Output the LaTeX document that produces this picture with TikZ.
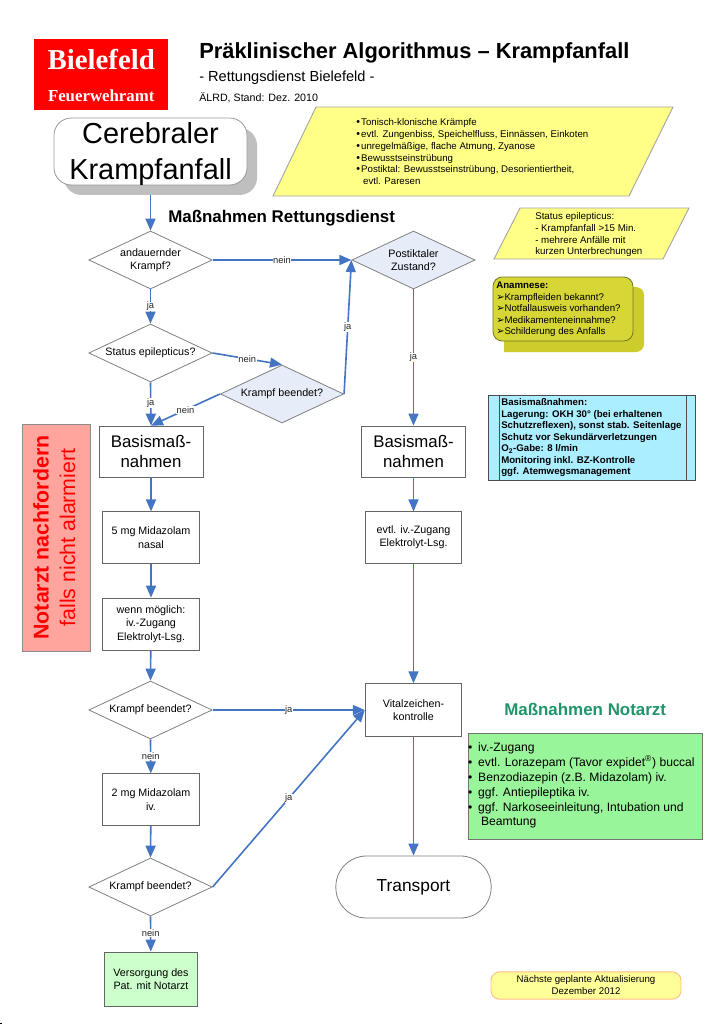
\documentclass[tikz,border=0pt]{standalone}
\usepackage{fontspec}
\setmainfont{Liberation Sans}
\newfontfamily\serifbold[BoldFont=* Bold]{Liberation Serif}
\newfontfamily\dejavu{DejaVu Sans}
\usetikzlibrary{arrows.meta,shapes.geometric,positioning,calc}
\newcommand{\fs}[2]{\fontsize{#1}{#2}\selectfont}
\newcommand{\bul}{\makebox[3.7pt][l]{\raisebox{.1pt}{\footnotesize\textbullet}}}
\newcommand{\arr}{\makebox[6.2pt][l]{\dejavu\fontsize{7.5}{7.5}\selectfont ➢}}
\newcommand{\gbul}{\makebox[7.6pt][l]{\textbullet}}
\definecolor{bluel}{HTML}{4375C3}
\definecolor{grayb}{HTML}{808080}
\begin{document}
\begin{tikzpicture}[x=0.75pt,y=-0.75pt,
  box/.style={draw=grayb!80!black,line width=.6pt,fill=white,align=center,inner sep=0pt,font=\fs{8.05}{10}},
  bigbox/.style={box,font=\fs{12.6}{14.5}},
  dia/.style={diamond,draw=grayb,line width=.6pt,fill=white,inner sep=0pt,minimum width=92.5pt,minimum height=43.5pt},
  diab/.style={dia,fill=diafill},
  dtxt/.style={align=center,font=\fs{8.05}{10}},
  conn/.style={draw=bluel,line width=1.2pt,-{Triangle[length=9pt,width=7.5pt]}},
  lab/.style={fill=white,inner sep=.4pt,font=\fs{7}{8},text=black!85},
  para/.style={draw=black!35,line width=.7pt,fill=paraf},
  lines/.style={anchor=north west,align=left,inner sep=0pt},
]
\definecolor{diafill}{HTML}{E6ECF8}
\definecolor{paraf}{HTML}{FFFF88}
\useasboundingbox (0,0) rectangle (724,1024);
\fill[white] (0,0) rectangle (724,1024);
\fill[black] (0,1022.5) rectangle (2,1024);

% logo
\node[fill=red,draw=none,minimum width=100.5pt,minimum height=53.2pt,inner sep=0pt] (logo) at (101.2,74.5) {};
\node[text=white,inner sep=0pt,font=\serifbold\bfseries\fs{21.6}{23}] (logoa) at (101.2,60) {Bielefeld};
\node[text=white,inner sep=0pt,font=\serifbold\bfseries\fs{12.6}{14}] (logob) at (101.2,96) {Feuerwehramt};

% titles
\node[anchor=base west,inner sep=0pt,font=\bfseries\fs{16.4}{18}] (title) at (199,59) {Präklinischer Algorithmus – Krampfanfall};
\node[anchor=base west,inner sep=0pt,font=\fs{10.95}{13}] (sub) at (199,81) {- Rettungsdienst Bielefeld -};
\node[anchor=base west,inner sep=0pt,font=\fs{8}{10}] (date) at (199,102) {ÄLRD, Stand: Dez. 2010};
\node[anchor=base west,inner sep=0pt,font=\bfseries\fs{12.7}{14}] (massr) at (168,222.5) {Maßnahmen Rettungsdienst};
\node[anchor=base west,inner sep=0pt,text={rgb,255:red,31;green,150;blue,105},font=\bfseries\fs{12.7}{14}] (massn) at (504,715) {Maßnahmen Notarzt};

% parallelograms
\draw[para] (316,107) -- (673,107) -- (629,196) -- (273,196) -- cycle;
\node[lines,font=\fs{7.25}{8.85}] (sym) at (356,118.5) {%
\bul Tonisch-klonische Krämpfe\\
\bul evtl. Zungenbiss, Speichelfluss, Einnässen, Einkoten\\
\bul unregelmäßige, flache Atmung, Zyanose\\
\bul Bewusstseinstrübung\\
\bul Postiktal: Bewusstseinstrübung, Desorientiertheit,\\
\hspace*{3.7pt}\hspace{.2em}evtl. Paresen};
\draw[para] (520,208) -- (689,208) -- (663,259) -- (494,259) -- cycle;
\node[lines,font=\fs{7.3}{8.7}] (stat) at (535,212.5) {Status epilepticus:\\- Krampfanfall >15 Min.\\- mehrere Anfälle mit\\kurzen Unterbrechungen};

% Anamnese
\definecolor{anaf}{HTML}{D6D637}
\definecolor{anas}{HTML}{CCCC2C}
\fill[anas] (504,287) -- (504,352) -- (636,352) to[out=0,in=-90] (644,344) -- (644,295) to[out=90,in=0] (636,287) -- cycle;
\node[draw=black!45!anaf,line width=.6pt,fill=anaf,rounded corners=7pt,minimum width=105pt,minimum height=48pt,inner sep=0pt] (ana) at (563,309) {};
\node[lines,font=\fs{7.25}{8.7}] (anat) at (496,281.5) {\textbf{Anamnese:}\\
\arr Krampfleiden bekannt?\\
\arr Notfallausweis vorhanden?\\
\arr Medikamenteneinnahme?\\
\arr Schilderung des Anfalls};

% Basis info
\node[draw=black!70,line width=.6pt,fill={rgb,255:red,170;green,238;blue,255},minimum width=155.2pt,minimum height=63.7pt,inner sep=0pt] (basinf) at (591.5,437.5) {};
\draw[black!70,line width=.6pt] (499,395) -- (499,480) (686,395) -- (686,480);
\node[lines,font=\bfseries\fs{7.25}{8.65}] (basint) at (501,398.5) {Basismaßnahmen:\\
Lagerung: OKH 30° (bei erhaltenen\\
Schutzreflexen), sonst stab. Seitenlage\\
Schutz vor Sekundärverletzungen\\
O\textsubscript{2}-Gabe: 8 l/min\\
Monitoring inkl. BZ-Kontrolle\\
ggf. Atemwegsmanagement};

% Notarzt nachfordern
\node[draw=black!45,line width=.6pt,fill={rgb,255:red,255;green,165;blue,158},minimum width=51pt,minimum height=170.3pt,inner sep=0pt] (nf) at (56,537.5) {};
\node[rotate=90,inner sep=0pt,font=\bfseries\fs{16}{18},text=red] (nfa) at (41,537.5) {Notarzt nachfordern};
\node[rotate=90,inner sep=0pt,font=\fs{16}{18},text=red] (nfb) at (67.5,537.5) {falls nicht alarmiert};

% green
\node[draw=black!55,line width=.7pt,fill={rgb,255:red,153;green,245;blue,153},minimum width=175.5pt,minimum height=79.5pt,inner sep=0pt] (gr) at (585,786) {};
\node[lines,font=\fs{9.1}{11.15}] (grt) at (467.8,742.5) {%
\gbul iv.-Zugang\\
\gbul evtl. Lorazepam (Tavor expidet\textsuperscript{®}) buccal\\
\gbul Benzodiazepin (z.B. Midazolam) iv.\\
\gbul ggf. Antiepileptika iv.\\
\gbul ggf. Narkoseeinleitung, Intubation und\\
\hspace*{9.8pt}Beamtung};

% note
\node[draw={rgb,255:red,255;green,190;blue,130},line width=.7pt,fill={rgb,255:red,255;green,255;blue,153},rounded corners=6.5pt,minimum width=142.5pt,minimum height=20.5pt,inner sep=0pt,align=center,font=\fs{7.25}{9}] (note) at (586,985.5) {Nächste geplante Aktualisierung\\Dezember 2012};

% flow nodes
\node[draw=none,fill=black!25,rounded corners=13pt,minimum width=144.8pt,minimum height=50.2pt,inner sep=0pt] (cereb2) at (160.5,161.5) {};
\node[draw=black!40,line width=.6pt,fill=white,rounded corners=13pt,minimum width=144.8pt,minimum height=50.2pt,inner sep=0pt] (cereb) at (150.5,151.5) {};
\node[align=center,inner sep=0pt,font=\fs{21.7}{26.5}] (cerebt) at (150.5,154) {Cerebraler\\Krampfanfall};

\node[dia,label={[dtxt]center:{andauernder\\Krampf?}}] (d1) at (150.5,260) {};
\node[dia,label={[dtxt]center:{Status epilepticus?}}] (d2) at (150.5,353) {};
\node[diab,label={[dtxt]center:{Krampf beendet?}}] (d3) at (282,394) {};
\node[diab,label={[dtxt]center:{Postiktaler\\Zustand?}}] (d4) at (413.5,260) {};
\node[bigbox,minimum width=78pt,minimum height=38.2pt] (b1) at (151,451.5) {Basismaß-\\nahmen};
\node[bigbox,minimum width=77.5pt,minimum height=38.2pt] (b2) at (413.5,451.5) {Basismaß-\\nahmen};
\node[box,minimum width=72.5pt,minimum height=38.5pt] (m1) at (151,537.5) {5 mg Midazolam\\nasal};
\node[box,minimum width=72.5pt,minimum height=39pt] (m2) at (151,624) {wenn möglich:\\iv.-Zugang\\Elektrolyt-Lsg.};
\node[box,minimum width=72.5pt,minimum height=38.5pt] (e1) at (413.5,537.5) {evtl. iv.-Zugang\\Elektrolyt-Lsg.};
\node[dia,label={[dtxt]center:{Krampf beendet?}}] (d5) at (150.5,710) {};
\node[box,minimum width=72.5pt,minimum height=39.5pt] (v) at (413.5,710) {Vitalzeichen-\\kontrolle};
\node[box,minimum width=72.5pt,minimum height=38.5pt] (m3) at (151,799.5) {2 mg Midazolam\\iv.};
\node[dia,label={[dtxt]center:{Krampf beendet?}}] (d6) at (150.5,887) {};
\node[box,fill={rgb,255:red,204;green,255;blue,204},minimum width=69.5pt,minimum height=40.5pt] (vs) at (151,979) {Versorgung des\\Pat. mit Notarzt};
\node[draw=grayb,line width=.6pt,fill=white,rounded corners=23pt,minimum width=116.5pt,minimum height=46.5pt,inner sep=0pt,font=\fs{13}{15}] (tr) at (413.5,887) {\raisebox{-1.6pt}{Transport}};

% connectors
\draw[conn] (cereb.south |- cereb2.south) -- (d1.north);
\draw[conn] (d1.east) -- node[lab,pos=.5]{nein} (d4.west);
\draw[conn] (d1.south) -- node[lab,pos=.5]{ja} (d2.north);
\draw[conn] (d2.east) -- node[lab,pos=.5]{nein} (d3.north);
\draw[conn] (d2.south) -- node[lab,pos=.47]{ja} (b1.north);
\draw[conn] (d3.west) -- node[lab,pos=.5]{nein} (b1.north);
\draw[conn] (d3.east) -- node[lab,pos=.5]{ja} (d4.west);
\draw[conn] (d4.south) -- node[lab,pos=.5]{ja} (b2.north);
\draw[conn] (b1) -- (m1);
\draw[conn] (m1) -- (m2);
\draw[conn] (m2) -- (d5.north);
\draw[conn] (d5.south) -- node[lab,pos=.5]{nein} (m3);
\draw[conn] (m3) -- (d6.north);
\draw[conn] (d6.south) -- node[lab,pos=.47]{nein} (vs);
\draw[conn] (d5.east) -- node[lab,pos=.5]{ja} (v.west);
\draw[conn] (d6.east) -- node[lab,pos=.5]{ja} (v.west);
\draw[conn] (b2) -- (e1);
\draw[conn] (e1) -- (v);
\draw[conn] (v) -- (tr);
\end{tikzpicture}
\end{document}
